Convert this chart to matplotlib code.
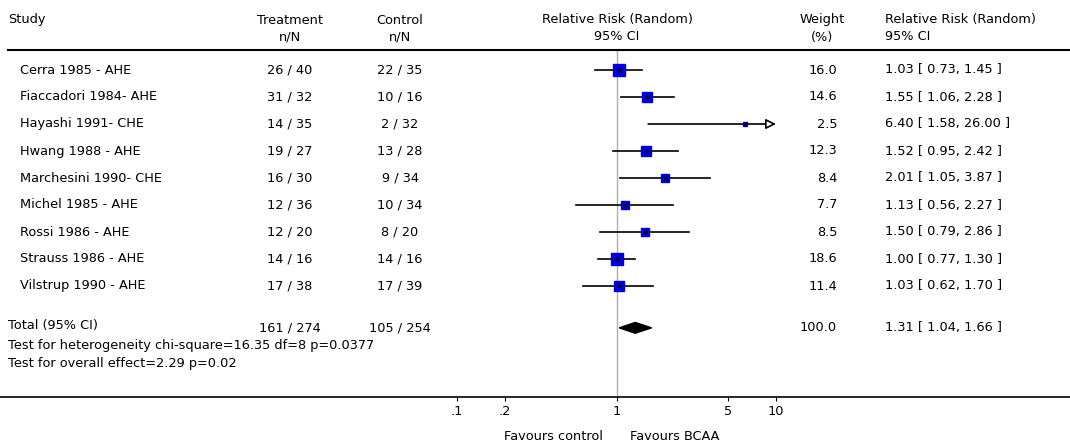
import numpy as np
import matplotlib.pyplot as plt
from matplotlib import transforms
from matplotlib.lines import Line2D

plt.rcParams['font.family'] = ['DejaVu Sans']

# data
studies = ['Cerra 1985 - AHE', 'Fiaccadori 1984- AHE', 'Hayashi 1991- CHE', 'Hwang 1988 - AHE',
           'Marchesini 1990- CHE', 'Michel 1985 - AHE', 'Rossi 1986 - AHE', 'Strauss 1986 - AHE',
           'Vilstrup 1990 - AHE']
treat_n = [26, 31, 14, 19, 16, 12, 12, 14, 17]
treat_N = [40, 32, 35, 27, 30, 36, 20, 16, 38]
ctrl_n = [22, 10, 2, 13, 9, 10, 8, 14, 17]
ctrl_N = [35, 16, 32, 28, 34, 34, 20, 16, 39]
weight = [16.0, 14.6, 2.5, 12.3, 8.4, 7.7, 8.5, 18.6, 11.4]
rr = [1.03, 1.55, 6.40, 1.52, 2.01, 1.13, 1.50, 1.00, 1.03]
lo = [0.73, 1.06, 1.58, 0.95, 1.05, 0.56, 0.79, 0.77, 0.62]
hi = [1.45, 2.28, 26.00, 2.42, 3.87, 2.27, 2.86, 1.30, 1.70]
total_counts = ['161 / 274', '105 / 254']
total_rr, total_lo, total_hi = 1.31, 1.04, 1.66
ticks = [0.1, 0.2, 1, 5, 10]
tick_labels = ['.1', '.2', '1', '5', '10']

W, H = 1070, 447
fig = plt.figure(figsize=(W / 100, H / 100), dpi=100)
fs = 9.3

def px(x, y):
    return x / W, 1 - y / H

# forest axis: .1 at x=457, 10 at x=776, rows from y=50 to y=397
ax = fig.add_axes([457 / W, 1 - 397 / H, (776 - 457) / W, (397 - 50) / H])
ax.set_xscale('log')
ax.set_xlim(0.1, 10)
ax.set_ylim((397 - 70) / 27, (50 - 70) / 27)
for s in ax.spines.values():
    s.set_visible(False)
ax.set_xticks(ticks)
ax.set_xticklabels(tick_labels, fontsize=fs)
ax.minorticks_off()
ax.tick_params(axis='x', length=3, width=0.8, pad=3)
ax.set_yticks([])
ax.patch.set_alpha(0)

n = len(studies)
ys = np.arange(n)
y_total = n + 0.55

ax.axvline(1, color='#b0b0b0', lw=1, zorder=1)

for i in range(n):
    if hi[i] > 10:
        ax.annotate('', xy=(10, ys[i]), xytext=(lo[i], ys[i]), annotation_clip=False,
                    arrowprops=dict(arrowstyle='-|>,head_length=0.6,head_width=0.3',
                                    fc='white', ec='black', lw=1.2, shrinkA=0, shrinkB=0))
    else:
        ax.plot([lo[i], hi[i]], [ys[i], ys[i]], color='black', lw=1.2, zorder=2, clip_on=False)
    side = 2.8 * np.sqrt(weight[i]) * 0.72
    ax.plot([rr[i]], [ys[i]], marker='s', ms=side, color='#0000d8', mec='#0000d8', zorder=3)
    ax.plot([rr[i]], [ys[i]], marker='o', ms=2, color='#000033', zorder=4)

dh = 0.2
ax.fill([total_lo, total_rr, total_hi, total_rr], [y_total, y_total - dh, y_total, y_total + dh],
        color='black', zorder=3)

# table columns
tr = transforms.blended_transform_factory(fig.transFigure, ax.transData)
for i in range(n):
    kw = dict(transform=tr, fontsize=fs, va='center')
    fig.text(20 / W, ys[i], studies[i], ha='left', **kw)
    fig.text(290 / W, ys[i], f'{treat_n[i]} / {treat_N[i]}', ha='center', **kw)
    fig.text(400 / W, ys[i], f'{ctrl_n[i]} / {ctrl_N[i]}', ha='center', **kw)
    fig.text(837 / W, ys[i], f'{weight[i]:.1f}', ha='right', **kw)
    fig.text(885 / W, ys[i], f'{rr[i]:.2f} [ {lo[i]:.2f}, {hi[i]:.2f} ]', ha='left', **kw)

kw = dict(transform=tr, fontsize=fs, va='center')
fig.text(8 / W, y_total - 0.1, 'Total (95% CI)', ha='left', **kw)
fig.text(290 / W, y_total, total_counts[0], ha='center', **kw)
fig.text(400 / W, y_total, total_counts[1], ha='center', **kw)
fig.text(837 / W, y_total, f'{sum(weight):.1f}', ha='right', **kw)
fig.text(885 / W, y_total, f'{total_rr:.2f} [ {total_lo:.2f}, {total_hi:.2f} ]', ha='left', **kw)
fig.text(*px(8, 345), 'Test for heterogeneity chi-square=16.35 df=8 p=0.0377', fontsize=fs, va='center')
fig.text(*px(8, 363), 'Test for overall effect=2.29 p=0.02', fontsize=fs, va='center')

# header
fig.text(*px(8, 20), 'Study', fontsize=fs, va='center')
fig.text(*px(290, 20), 'Treatment', fontsize=fs, va='center', ha='center')
fig.text(*px(290, 37), 'n/N', fontsize=fs, va='center', ha='center')
fig.text(*px(400, 20), 'Control', fontsize=fs, va='center', ha='center')
fig.text(*px(400, 37), 'n/N', fontsize=fs, va='center', ha='center')
fig.text(*px(617, 20), 'Relative Risk (Random)', fontsize=fs, va='center', ha='center')
fig.text(*px(617, 37), '95% CI', fontsize=fs, va='center', ha='center')
fig.text(*px(822, 20), 'Weight', fontsize=fs, va='center', ha='center')
fig.text(*px(822, 37), '(%)', fontsize=fs, va='center', ha='center')
fig.text(*px(885, 20), 'Relative Risk (Random)', fontsize=fs, va='center', ha='left')
fig.text(*px(885, 37), '95% CI', fontsize=fs, va='center', ha='left')

fig.add_artist(Line2D([8 / W, 1], [1 - 50 / H] * 2, color='black', lw=1.5, transform=fig.transFigure))
fig.add_artist(Line2D([0, 1], [1 - 397 / H] * 2, color='black', lw=1.2, transform=fig.transFigure))

fig.text(*px(603, 437), 'Favours control', fontsize=fs, va='center', ha='right')
fig.text(*px(630, 437), 'Favours BCAA', fontsize=fs, va='center', ha='left')

fig.savefig('out.png', dpi=100)
